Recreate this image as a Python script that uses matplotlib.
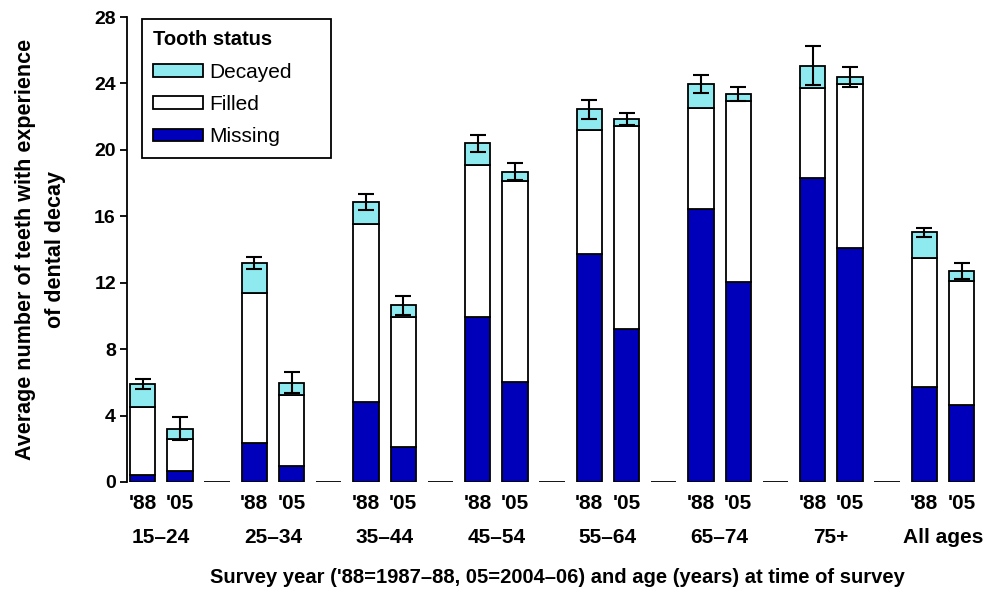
import matplotlib
matplotlib.use("Agg")
from matplotlib import pyplot as plt
from matplotlib.patches import Patch
from matplotlib.transforms import blended_transform_factory
import numpy as np

plt.rcParams["font.family"] = ["Liberation Sans", "DejaVu Sans"]

age_groups = ["15\u201324", "25\u201334", "35\u201344", "45\u201354", "55\u201364", "65\u201374", "75+", "All ages"]
years = ["'88", "'05"]

# values per bar, ordered '88, '05 within each age group
missing = [0.42, 0.66, 2.33, 0.96, 4.84, 2.09, 9.91, 6.04,
           13.71, 9.21, 16.44, 12.06, 18.28, 14.09, 5.74, 4.64]
filled_top = [4.53, 2.59, 11.36, 5.26, 15.51, 9.91, 19.08, 18.14,
              21.21, 21.41, 22.52, 22.94, 23.74, 23.98, 13.49, 12.10]
decayed_top = [5.88, 3.21, 13.18, 5.98, 16.86, 10.64, 20.41, 18.68,
               22.44, 21.85, 23.96, 23.38, 25.08, 24.40, 15.03, 12.68]
err = [0.30, 0.70, 0.37, 0.62, 0.46, 0.56, 0.51, 0.52,
       0.58, 0.37, 0.55, 0.43, 1.20, 0.60, 0.27, 0.48]

filled = [f - m for f, m in zip(filled_top, missing)]
decayed = [d - f for d, f in zip(decayed_top, filled_top)]

col_decayed = "#8EEAEE"
col_filled = "white"
col_missing = "#0000BB"

# slot layout: '88, '05, empty gap between groups
pos = []
gaps = []
for g in range(len(age_groups)):
    pos += [3 * g, 3 * g + 1]
    if g < len(age_groups) - 1:
        gaps.append(3 * g + 2)
pos = np.array(pos)

fig = plt.figure(figsize=(9.86, 5.95), dpi=100)
ax = fig.add_axes([0.1288, 0.190, 0.860, 0.7814])

w = 0.68
kw = dict(width=w, edgecolor="black", linewidth=1.3)
ax.bar(pos, missing, color=col_missing, **kw)
ax.bar(pos, filled, bottom=missing, color=col_filled, **kw)
ax.bar(pos, decayed, bottom=filled_top, color=col_decayed, **kw)
ax.bar(gaps, [0] * len(gaps), color="black", **kw)
ax.errorbar(pos, decayed_top, yerr=err, fmt="none", ecolor="black",
            elinewidth=1.5, capsize=6, capthick=1.5)

ax.set_xlim(-0.42, 22.36)
ax.set_ylim(0, 28)
ax.set_yticks(range(0, 29, 4))
ax.tick_params(axis="y", direction="out", length=5, width=1.3, labelsize=14, pad=3)
for lab in ax.get_yticklabels():
    lab.set_fontweight("bold")
ax.set_xticks(pos)
ax.set_xticklabels(years * len(age_groups), fontsize=15, fontweight="bold")
ax.tick_params(axis="x", length=0, pad=9)

for s in ["top", "right", "bottom"]:
    ax.spines[s].set_visible(False)
ax.spines["left"].set_linewidth(1.3)

trans = blended_transform_factory(ax.transData, ax.transAxes)
for g, name in enumerate(age_groups):
    ax.text(3 * g + 0.5, -0.0995, name, transform=trans, ha="center", va="top",
            fontsize=15, fontweight="bold")

ax.set_ylabel("Average number of teeth with experience\nof dental decay",
              fontsize=15.5, fontweight="bold", labelpad=20, linespacing=1.6)
fig.text(0.565, 0.013, "Survey year ('88=1987\u201388, 05=2004\u201306) and age (years) at time of survey",
         ha="center", va="bottom", fontsize=14.5, fontweight="bold")

handles = [Patch(facecolor=col_decayed, edgecolor="black", linewidth=1.3, label="Decayed"),
           Patch(facecolor=col_filled, edgecolor="black", linewidth=1.3, label="Filled"),
           Patch(facecolor=col_missing, edgecolor="black", linewidth=1.3, label="Missing")]
leg = ax.legend(handles=handles, title="Tooth status", loc="upper left",
                bbox_to_anchor=(0.0177, 0.0, 0.223, 0.996), mode="expand",
                borderaxespad=0, fontsize=15,
                fancybox=False, edgecolor="black", framealpha=1,
                handlelength=2.4, handleheight=0.55, borderpad=0.55,
                labelspacing=0.64, handletextpad=0.3, alignment="left")
leg.get_title().set_fontweight("bold")
leg.get_title().set_fontsize(14.5)
leg.get_frame().set_linewidth(1.3)

fig.savefig("out.png", dpi=100)
